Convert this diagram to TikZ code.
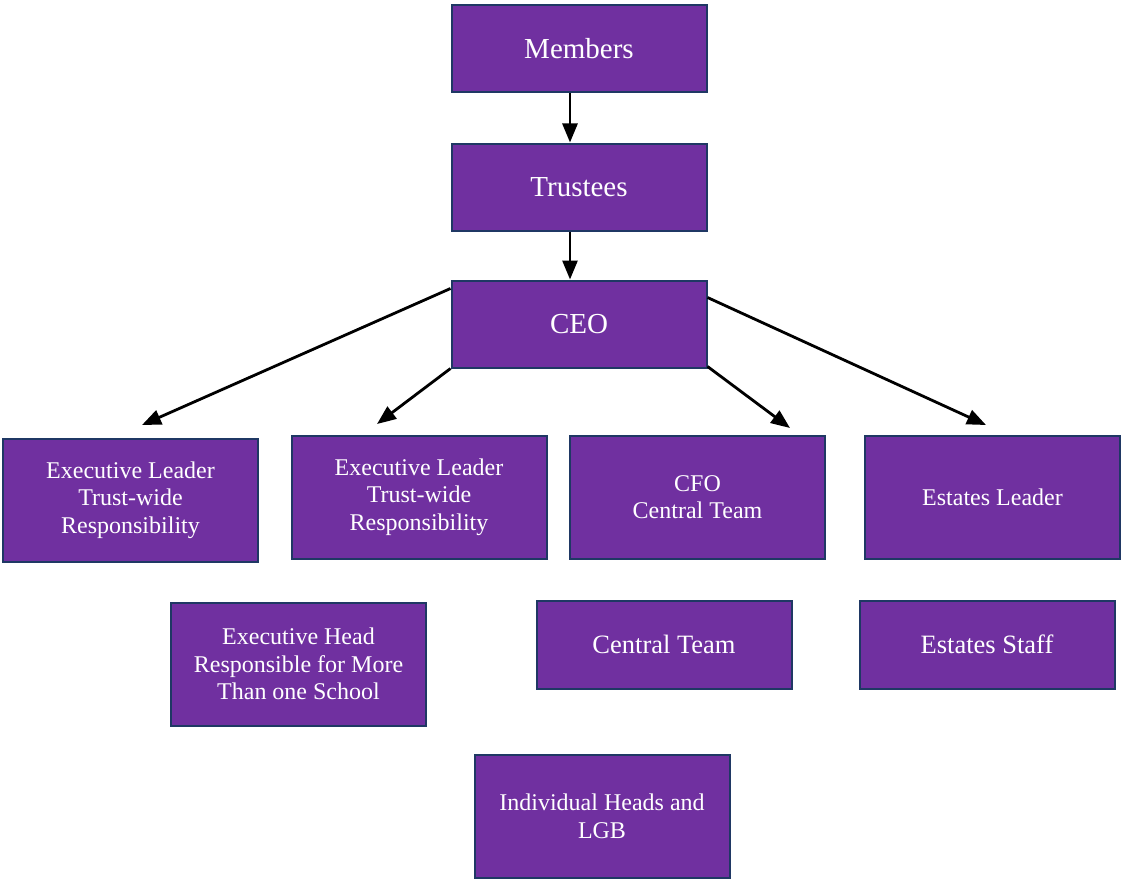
\documentclass[tikz,border=0pt]{standalone}
\usepackage{fontspec}
\setmainfont{Liberation Serif}
\usepackage{tikz}
\usetikzlibrary{positioning,calc,arrows.meta}
\usepackage{xcolor}
\definecolor{boxfill}{HTML}{7030A0}
\definecolor{boxline}{HTML}{1F3864}

\begin{document}
\begin{tikzpicture}[x=1pt,y=-1pt,
    rolebox/.style={draw=boxline, line width=2pt, fill=boxfill, text=white,
      inner sep=0pt, align=center, minimum width=255pt},
    bigtext/.style={font=\fontsize{29}{33}\selectfont, minimum height=87pt},
    midtext/.style={font=\fontsize{26.5}{30}\selectfont, minimum height=88pt},
    smalltext/.style={font=\fontsize{24}{27.5}\selectfont, minimum height=123pt},
    arr/.style={line width=2.8pt, -{Triangle[length=19pt,width=15pt]}}]
      \useasboundingbox (0,0) rectangle (1121,880);

      \node[rolebox,bigtext] (members) at (579,49) {Members};
      \node[rolebox,bigtext] (trustees) at (579,187) {Trustees};
      \node[rolebox,bigtext] (ceo) at (579,324) {CEO};

      \node[rolebox,smalltext] (leadone) at (130.5,500) {Executive Leader\\Trust-wide\\Responsibility};
      \node[rolebox,smalltext] (leadtwo) at (419,497) {Executive Leader\\Trust-wide\\Responsibility};
      \node[rolebox,smalltext] (cfo) at (697.5,497) {CFO\\Central Team};
      \node[rolebox,smalltext] (estates) at (992.5,497) {Estates Leader};

      \node[rolebox,smalltext] (exechead) at (298.5,664) {Executive Head\\Responsible for More\\Than one School};
      \node[rolebox,midtext] (central) at (664,644.5) {Central Team};
      \node[rolebox,midtext] (staff) at (987,644.5) {Estates Staff};
      \node[rolebox,smalltext] (heads) at (602,816.5) {Individual Heads and\\LGB};

      \coordinate (tipone) at (142,425);
      \coordinate (tiptwo) at (377,424);
      \coordinate (tipcfo) at (790,428);
      \coordinate (tipest) at (986,425);

      \draw[arr] ([xshift=-9pt]members.south) -- ([xshift=-9pt]trustees.north);
      \draw[arr] ([xshift=-9pt]trustees.south) -- ([xshift=-9pt]ceo.north);
      \draw[arr] ([yshift=-9pt]ceo.north west) -- (tipone);
      \draw[arr] (ceo.south west) -- (tiptwo);
      \draw[arr] ([yshift=2pt]ceo.south east) -- (tipcfo);
      \draw[arr] ([yshift=-18pt]ceo.north east) -- (tipest);

    \end{tikzpicture}
\end{document}
